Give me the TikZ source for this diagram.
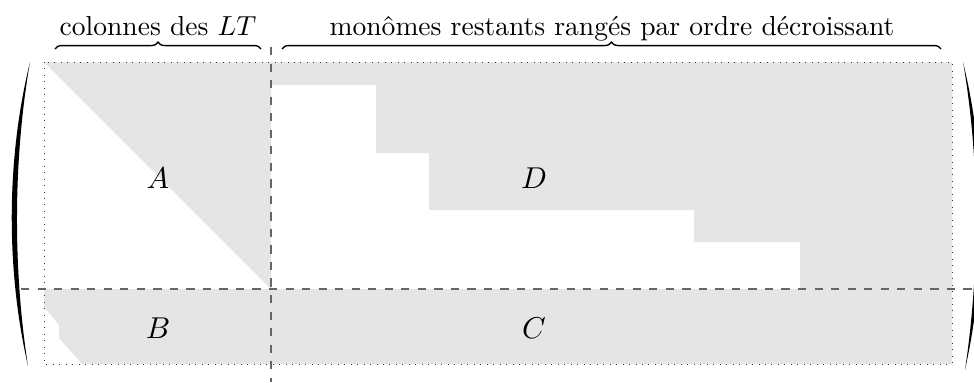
\documentclass[tikz,border=0pt]{standalone}
\usetikzlibrary{decorations.pathreplacing}
\begin{document}
\begin{tikzpicture}[x=0.01276cm, y=-0.01276cm, bloc/.style={fill=gray!20}, coupe/.style={dashed, black!60, line width=1pt}, cadre/.style={dotted, black!80, line width=0.35pt}, accol/.style={decorate, decoration={brace, amplitude=2.5pt}, line width=0.5pt}, lettre/.style={font=\fontsize{11}{13}\selectfont}]
                \useasboundingbox (0,0) rectangle (974,382);

                % zones grises
                \fill[bloc] (44,62) -- (271,62) -- (271,289) -- cycle;
                \fill[bloc] (271,62) -- (952,62) -- (952,289) -- (800,289) -- (800,242) -- (694,242) -- (694,210) -- (429,210) -- (429,153) -- (376,153) -- (376,85) -- (271,85) -- cycle;
                \fill[bloc] (44,289) -- (952,289) -- (952,364) -- (82,364) -- (59,338) -- (59,325) -- (44,307) -- cycle;

                \draw[cadre] (44,62) rectangle (952,364);
                \draw[coupe] (271,47) -- (271,382);
                \draw[coupe] (21,289) -- (974,289);

                % parentheses
                \fill (30,62) .. controls (6,160) and (6,270) .. (28,366) .. controls (13,270) and (13,160) .. (30,62);
                \fill (963,62) .. controls (987,160) and (987,270) .. (965,370) .. controls (980,270) and (980,160) .. (963,62);

                \draw[accol] (55,49) -- (261,49);
                \draw[accol] (282,49) -- (941,49);
                \node[anchor=base] at (158,35) (lt) {colonnes des $LT$};
                \node[anchor=base] at (612,35) (mono) {monômes restants rangés par ordre décroissant};

                \node[lettre] at (158,178) (A) {$A$};
                \node[lettre] at (534,178) (D) {$D$};
                \node[lettre] at (158,328) (B) {$B$};
                \node[lettre] at (534,328) (C) {$C$};
            \end{tikzpicture}
\end{document}
